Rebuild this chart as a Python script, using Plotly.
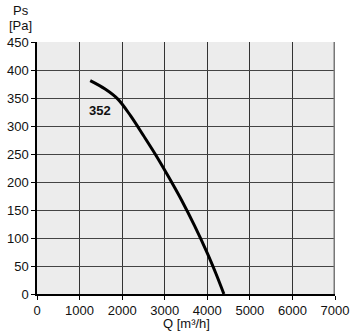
import plotly.graph_objects as go

q_values = [1250, 1600, 1900, 2200, 2500, 2800, 3100, 3400, 3700, 4000, 4200, 4390]
ps_values = [381, 366, 348, 318, 283, 247, 208, 167, 122, 73, 37, 0]
curve_label = "352"
label_pos = (1480, 327)
x_ticks = [0, 1000, 2000, 3000, 4000, 5000, 6000, 7000]
y_ticks = [0, 50, 100, 150, 200, 250, 300, 350, 400, 450]

FONT = "Liberation Sans, Arial, sans-serif"

fig = go.Figure()
fig.add_trace(go.Scatter(x=q_values, y=ps_values, mode="lines",
                         line=dict(color="black", width=3, shape="spline", smoothing=1.0),
                         showlegend=False, hoverinfo="skip"))

fig.add_annotation(x=label_pos[0], y=label_pos[1], text="<b>" + curve_label + "</b>",
                   showarrow=False, font=dict(family=FONT, size=13, color="#111"))

# right border
fig.add_shape(type="line", x0=7000, x1=7000, y0=0, y1=450, xref="x", yref="y",
              line=dict(color="#777", width=3))

fig.add_annotation(xref="paper", yref="paper", x=-0.055, y=1, yshift=32, text="Ps",
                   showarrow=False, xanchor="center", yanchor="middle",
                   font=dict(family=FONT, size=13, color="#111"))
fig.add_annotation(xref="paper", yref="paper", x=-0.055, y=1, yshift=17, text="[Pa]",
                   showarrow=False, xanchor="center", yanchor="middle",
                   font=dict(family=FONT, size=13, color="#111"))
fig.add_annotation(xref="paper", yref="paper", x=0.5, y=0, yshift=-29, text="Q [m³/h]",
                   showarrow=False, xanchor="center", yanchor="middle",
                   font=dict(family=FONT, size=13, color="#111"))

fig.update_layout(
    width=359, height=331,
    margin=dict(l=37, r=24, t=42, b=37, autoexpand=False),
    paper_bgcolor="white", plot_bgcolor="#ececec",
    font=dict(family=FONT, size=13, color="#111"),
    showlegend=False,
)
fig.update_xaxes(range=[0, 7000], tickvals=x_ticks, ticktext=[str(v) for v in x_ticks],
                 showgrid=True, gridcolor="#333", gridwidth=1, automargin=False,
                 showline=True, linecolor="black", linewidth=1.5,
                 ticks="outside", ticklen=4, tickcolor="black", zeroline=False)
fig.update_yaxes(range=[0, 450], tickvals=y_ticks, ticktext=[str(v) for v in y_ticks],
                 showgrid=True, gridcolor="#444", gridwidth=1, automargin=False,
                 showline=True, linecolor="black", linewidth=1.5,
                 ticks="outside", ticklen=4, tickcolor="black", zeroline=False)

fig.write_html("out.html", config={"displayModeBar": False},
               post_script="document.body.style.margin='0';")
